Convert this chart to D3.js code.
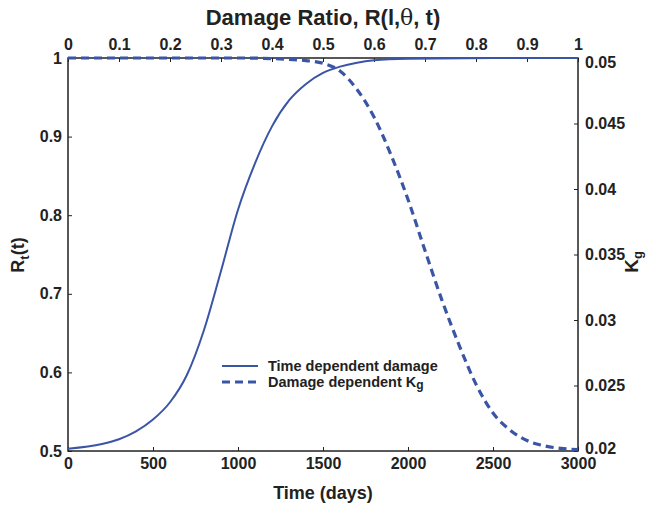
<!DOCTYPE html>
<html>
<head>
<meta charset="utf-8">
<script src="https://cdn.jsdelivr.net/npm/d3@7.9.0/dist/d3.min.js"></script>
<style>
  body { margin: 0; background: #fff; }
  svg text { font-family: "Liberation Sans", Arial, sans-serif; font-weight: bold; fill: #222; }
</style>
</head>
<body>
<svg id="chart" width="646" height="507"></svg>
<script>
// time (days) for the damage curve
const days = [0, 200, 300, 400, 500, 600, 700, 800, 900, 1000, 1100, 1200, 1300, 1400, 1500, 1600, 1700, 1800, 2000, 2500, 3000];
// time dependent damage R_t(t)
const damage = [0.503, 0.509, 0.515, 0.525, 0.540, 0.562, 0.597, 0.654, 0.729, 0.807, 0.866, 0.913, 0.946, 0.967, 0.981, 0.989, 0.994, 0.997, 0.999, 1.0, 1.0];

const kDays = [0, 500, 1000, 1300, 1400, 1500, 1600, 1700, 1800, 1900, 2000, 2100, 2200, 2300, 2400, 2500, 2600, 2700, 2800, 2900, 3000];
// damage dependent Kg
const kg = [0.05, 0.05, 0.05, 0.0499, 0.0498, 0.0496, 0.0490, 0.0476, 0.0455, 0.0426, 0.0392, 0.0353, 0.0315, 0.0281, 0.0251, 0.0229, 0.0216, 0.0208, 0.0204, 0.0202, 0.0201];

const xTicks = [0, 500, 1000, 1500, 2000, 2500, 3000];
const topTicks = [0, 0.1, 0.2, 0.3, 0.4, 0.5, 0.6, 0.7, 0.8, 0.9, 1];
const leftTicks = [0.5, 0.6, 0.7, 0.8, 0.9, 1];
const rightTicks = [0.02, 0.025, 0.03, 0.035, 0.04, 0.045, 0.05];

const color = '#3a55a6';
const L = 68, R = 578, T = 58, B = 451;

const svg = d3.select('#chart');

const x = d3.scaleLinear().domain([0, 3000]).range([L, R]);
const xTop = d3.scaleLinear().domain([0, 1]).range([L, R]);
const y = d3.scaleLinear().domain([0.5, 1]).range([B, T]);
const y2 = d3.scaleLinear().domain([0.02, 0.05]).range([B, T]);

function fmt(d) { return d3.format('~g')(d); }

function styleAxis(g) {
    g.select('.domain').remove();
    g.selectAll('line').attr('stroke', '#222').attr('stroke-width', 1);
    g.selectAll('text').attr('font-size', 16);
}

svg.append('g').attr('transform', `translate(0,${B})`)
    .call(d3.axisBottom(x).tickValues(xTicks).tickSize(-4).tickPadding(7).tickFormat(fmt))
    .call(styleAxis);
svg.append('g').attr('transform', `translate(0,${T})`)
    .call(d3.axisTop(xTop).tickValues(topTicks).tickSize(-4).tickPadding(8).tickFormat(fmt))
    .call(styleAxis);
svg.append('g').attr('transform', `translate(${L},0)`)
    .call(d3.axisLeft(y).tickValues(leftTicks).tickSize(-4).tickPadding(6).tickFormat(fmt))
    .call(styleAxis);
svg.append('g').attr('transform', `translate(${R},0)`)
    .call(d3.axisRight(y2).tickValues(rightTicks).tickSize(-4).tickPadding(7).tickFormat(fmt))
    .call(styleAxis)
    .call(g => g.selectAll('text').attr('dy', (d) => d === 0.05 ? '0.6em' : d === 0.02 ? '0.15em' : '0.32em'));

// frame
svg.append('rect')
    .attr('x', L).attr('y', T).attr('width', R - L).attr('height', B - T)
    .attr('fill', 'none').attr('stroke', '#222').attr('stroke-width', 1.5);

const line1 = d3.line().x((d, i) => x(days[i])).y(d => y(d)).curve(d3.curveMonotoneX);
const line2 = d3.line().x((d, i) => x(kDays[i])).y(d => y2(d)).curve(d3.curveMonotoneX);

svg.append('path').attr('d', line2(kg))
    .attr('fill', 'none').attr('stroke', color).attr('stroke-width', 3.2)
    .attr('stroke-dasharray', '8,5');
svg.append('path').attr('d', line1(damage))
    .attr('fill', 'none').attr('stroke', color).attr('stroke-width', 2);

// titles
svg.append('text').attr('x', 323).attr('y', 25).attr('text-anchor', 'middle')
    .attr('font-size', 22)
    .html('Damage Ratio, R(l,<tspan font-family="DejaVu Serif" font-weight="normal">θ</tspan>, t)');
svg.append('text').attr('x', 323).attr('y', 499).attr('text-anchor', 'middle')
    .attr('font-size', 18).text('Time (days)');
svg.append('text').attr('transform', 'translate(24,255) rotate(-90)').attr('text-anchor', 'middle')
    .attr('font-size', 18)
    .html('R<tspan font-size="13" dy="5">t</tspan><tspan dy="-5">(t)</tspan>');
svg.append('text').attr('transform', 'translate(638,262) rotate(-90)').attr('text-anchor', 'middle')
    .attr('font-size', 19)
    .html('K<tspan font-size="13" dy="4">g</tspan>');

// legend
const legend = svg.append('g').attr('transform', 'translate(222,366)');
legend.append('line').attr('x1', 0).attr('x2', 36).attr('y1', 0).attr('y2', 0)
    .attr('stroke', color).attr('stroke-width', 2);
legend.append('line').attr('x1', 0).attr('x2', 36).attr('y1', 16).attr('y2', 16)
    .attr('stroke', color).attr('stroke-width', 3.2).attr('stroke-dasharray', '8,5');
legend.append('text').attr('x', 46).attr('y', 5).attr('font-size', 14.5).text('Time dependent damage');
legend.append('text').attr('x', 46).attr('y', 21).attr('font-size', 14.5)
    .html('Damage dependent K<tspan font-size="12" dy="2">g</tspan>');
</script>
</body>
</html>
